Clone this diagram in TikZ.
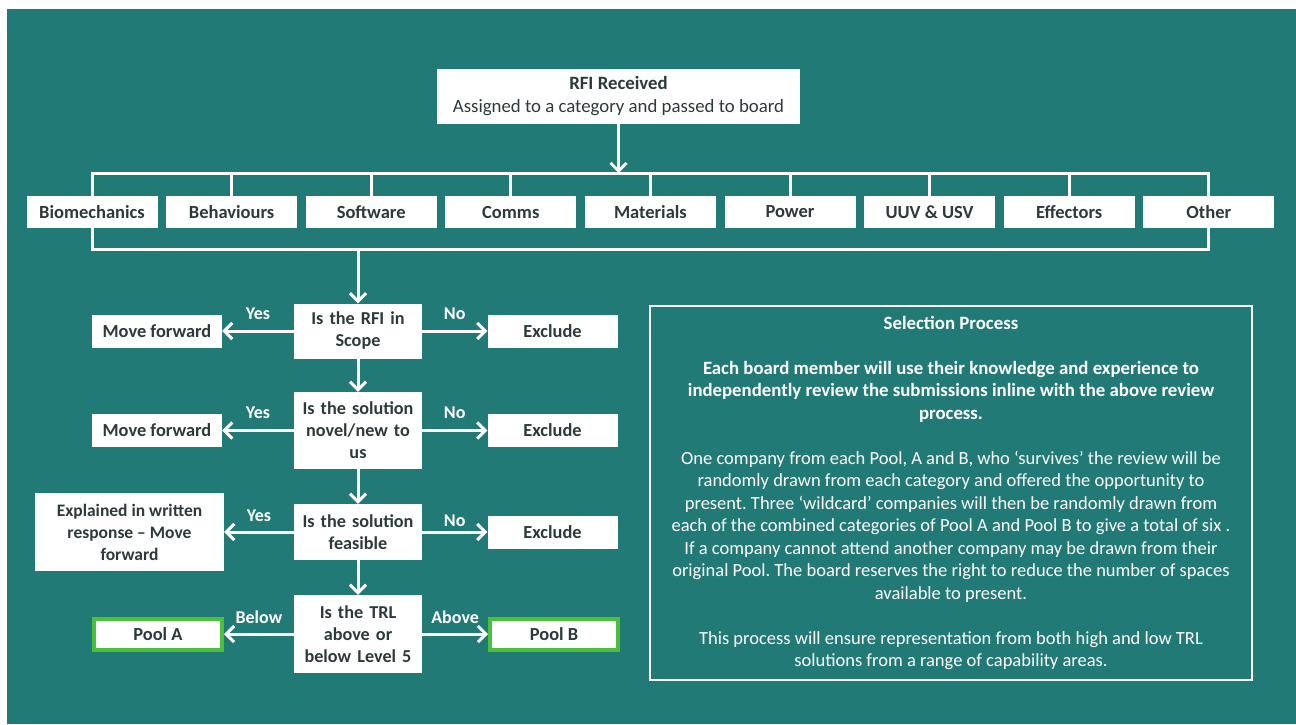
\documentclass[tikz,border=0pt]{standalone}
\usepackage{fontspec}
\setmainfont{Carlito}
\usetikzlibrary{arrows.meta}
\frenchspacing
\definecolor{bgteal}{RGB}{34,122,118}
\definecolor{boxtext}{RGB}{45,58,59}
\definecolor{poolgreen}{RGB}{76,192,58}
\tikzset{
    topbox/.style={fill=white,text=boxtext,font=\fontsize{18.8}{23}\selectfont,align=center,minimum width=363pt,minimum height=55pt,inner sep=0pt},
    catbox/.style={fill=white,text=boxtext,font=\bfseries\fontsize{18.5}{21}\selectfont,minimum width=131pt,minimum height=32pt,inner sep=0pt},
    qbox/.style={fill=white,text=boxtext,font=\bfseries\fontsize{18.2}{22}\selectfont,align=center,text width=124pt,inner sep=2pt},
    endbox/.style={fill=white,text=boxtext,font=\bfseries\fontsize{18.4}{22}\selectfont,minimum width=130pt,minimum height=33pt,inner sep=0pt},
    poolbox/.style={endbox,draw=poolgreen,line width=4pt,minimum width=128pt,minimum height=31pt},
    lbl/.style={text=white,font=\bfseries\fontsize{18}{19}\selectfont,midway},
    selbox/.style={draw=white,line width=2.5pt,text=white,font=\fontsize{18.5}{22.5}\selectfont,align=center,minimum width=602pt,minimum height=374pt,inner sep=0pt},
    link/.style={draw=white,line width=3pt},
    arr/.style={link,-{Straight Barb[length=8pt,width=16pt]}}
}
\newcommand{\selbf}[1]{{\bfseries\fontsize{18.8}{22.5}\selectfont #1}}
\begin{document}
\begin{tikzpicture}[x=1pt,y=-1pt]
        \useasboundingbox (0,0) rectangle (1296,724);
        \fill[white] (0,0) rectangle (1296,724);
        \fill[bgteal] (7,9) rectangle (1296,724);

        \node[topbox] (rfi) at (618.5,96) {\textbf{RFI Received}\\Assigned to a category and passed to board};
        \foreach \name/\lbl [count=\i from 0] in {bio/Biomechanics,beh/Behaviours,soft/Software,comms/Comms,mat/Materials,pow/Power,uuv/UUV \& USV,eff/Effectors,oth/Other}
            \node[catbox] (\name) at (92+139.6*\i,212) {\lbl};
        \coordinate (topbus) at (618.5,173);
        \coordinate (botbus) at (358,249);

        \node[qbox,minimum height=55pt] (d1) at (358,331) {Is the RFI in\\Scope};
        \node[qbox,minimum height=77pt] (d2) at (358,430.5) {Is the solution\\novel/new to\\us};
        \node[qbox,minimum height=56pt] (d3) at (358,532) {Is the solution\\feasible};
        \node[qbox,minimum height=78pt] (d4) at (358,634) {Is the TRL\\above or\\below Level 5};

        \node[endbox] (mf1) at (157,331) {Move forward};
        \node[endbox] (mf2) at (157,430.5) {Move forward};
        \node[endbox,align=center,font=\bfseries\fontsize{17.5}{22}\selectfont,minimum width=189pt,minimum height=78pt] (expl) at (129.5,532) {Explained in written\\response – Move\\forward};
        \node[poolbox] (poola) at (158,634) {Pool A};

        \node[endbox] (ex1) at (552.5,331) {Exclude};
        \node[endbox] (ex2) at (552.5,430.5) {Exclude};
        \node[endbox] (ex3) at (552.5,532) {Exclude};
        \node[poolbox] (poolb) at (554,634) {Pool B};

        \draw[arr] (rfi) -- (topbus);
        \draw[link] (bio.north) |- (topbus) -| (oth.north);
        \foreach \name in {beh,soft,comms,mat,pow,uuv,eff}
            \draw[link] (\name.north) -- (\name.north |- topbus);
        \draw[link] (bio.south) |- (botbus) -| (oth.south);
        \draw[arr] (botbus) -- (d1);
        \draw[arr] (d1) -- (d2);
        \draw[arr] (d2) -- (d3);
        \draw[arr] (d3) -- (d4);

        \draw[arr] (d1) -- node[lbl,yshift=17pt] {Yes} (mf1);
        \draw[arr] (d1) -- node[lbl,yshift=17pt] {No} (ex1);
        \draw[arr] (d2) -- node[lbl,yshift=18pt] {Yes} (mf2);
        \draw[arr] (d2) -- node[lbl,yshift=18pt] {No} (ex2);
        \draw[arr] (d3) -- node[lbl,yshift=16pt] {Yes} (expl);
        \draw[arr] (d3) -- node[lbl,yshift=11pt] {No} (ex3);
        \draw[arr] (d4) -- node[lbl,yshift=17pt] {Below} (poola);
        \draw[arr] (d4) -- node[lbl,yshift=17pt] {Above} (poolb);

        \node[selbox] (sel) at (951,493) {\selbf{Selection Process}\\[22.5pt]
            \selbf{Each board member will use their knowledge and experience to}\\
            \selbf{independently review the submissions inline with the above review}\\
            \selbf{process.}\\[22.5pt]
            One company from each Pool, A and B, who ‘survives’ the review will be\\
            randomly drawn from each category and offered the opportunity to\\
            present. Three ‘wildcard’ companies will then be randomly drawn from\\
            each of the combined categories of Pool A and Pool B to give a total of six .\\
            If a company cannot attend another company may be drawn from their\\
            original Pool. The board reserves the right to reduce the number of spaces\\
            available to present.\\[22.5pt]
            This process will ensure representation from both high and low TRL\\
            solutions from a range of capability areas.};
    \end{tikzpicture}
\end{document}
